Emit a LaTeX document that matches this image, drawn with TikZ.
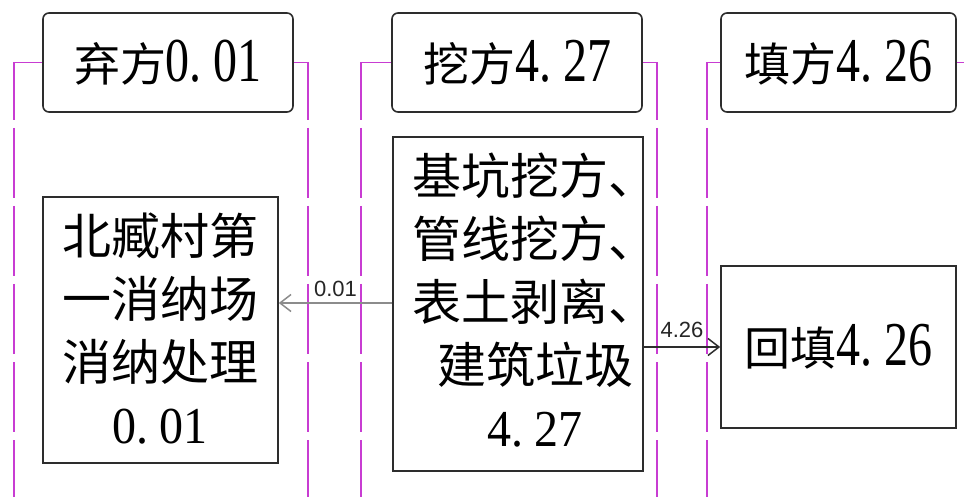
\documentclass[tikz,border=0pt]{standalone}
\usepackage{fontspec}
\usepackage{graphicx}
\newfontfamily\cjk{Noto Sans CJK SC}
\newfontfamily\lsans{Liberation Sans}
\newfontfamily\dserif{Liberation Serif}
\usetikzlibrary{arrows.meta}
\definecolor{mag}{RGB}{200,60,210}
\definecolor{boxline}{RGB}{45,45,45}
\definecolor{arrgray}{RGB}{140,140,140}
\newcommand\hdig[1]{{\dserif\fontsize{24pt}{28pt}\selectfont\scalebox{1}[1.3]{#1}}}
\newcommand\bdig[1]{{\dserif\fontsize{24pt}{28pt}\selectfont\scalebox{1}[1.08]{#1}}}
\begin{document}
\begin{tikzpicture}[x=0.5pt,y=-0.5pt,
  hdr/.style={draw=boxline, line width=0.8pt, rounded corners=3pt, minimum width=125pt,
    minimum height=49.5pt, inner sep=0pt, font=\fontsize{23pt}{28pt}\selectfont},
  cbox/.style={draw=boxline, line width=0.8pt, inner sep=0pt},
  ctext/.style={inner sep=0pt, align=center, font=\fontsize{24.5pt}{31.5pt}\selectfont},
  magsolid/.style={draw=mag, line width=0.75pt},
  magdash/.style={draw=mag, line width=0.75pt, dash pattern=on 35pt off 4pt},
  flow/.style={line width=0.75pt, -{Straight Barb[length=5.5pt,width=8.5pt]}},
  flowlabel/.style={font=\lsans\fontsize{11pt}{13pt}\selectfont, inner sep=0pt, text=black!85}
]
\useasboundingbox (0,0) rectangle (964,497);
\fill[white] (0,0) rectangle (964,497);

% header boxes
\node[hdr] (h1) at (168,62.5) {{\cjk 弃方}\hdig{0.\hspace{0.25em}01}};
\node[hdr] (h2) at (517,62.5) {{\cjk 挖方}\hdig{4.\hspace{0.25em}27}};
\node[hdr, minimum width=117.5pt] (h3) at (838.5,62.5) {{\cjk 填方}\hdig{4.\hspace{0.25em}26}};

% content boxes
\node[cbox, minimum width=117.5pt, minimum height=133pt] (b1) at (160.5,330) {};
\node[ctext] (t1) at (160,329)
  {{\cjk 北臧村第}\\{\cjk 一消纳场}\\{\cjk 消纳处理}\\\bdig{0.\hspace{0.25em}01}};
\node[cbox, minimum width=125pt, minimum height=167pt] (b2) at (518,304) {};
\node[ctext] (t2) at (535,300)
  {{\cjk 基坑挖方、}\\{\cjk 管线挖方、}\\{\cjk 表土剥离、}\\{\cjk 建筑垃圾}\\\bdig{4.\hspace{0.25em}27}};
\node[cbox, minimum width=117.5pt, minimum height=81pt, font=\fontsize{23pt}{28pt}\selectfont] (b3) at (838.5,347)
  {{\cjk 回填}\hdig{4.\hspace{0.25em}26}};

% magenta column brackets
\draw[magsolid] (h1.west) -- (14,62.5) -- (14,120);
\draw[magdash] (14,128) -- (14,497);
\draw[magsolid] (h1.east) -- (308,62.5) -- (308,120);
\draw[magdash] (308,128) -- (308,497);
\draw[magsolid] (h2.west) -- (361,62.5) -- (361,120);
\draw[magdash] (361,128) -- (361,497);
\draw[magsolid] (h2.east) -- (657,62.5) -- (657,120);
\draw[magdash] (657,128) -- (657,497);
\draw[magsolid] (h3.west) -- (707,62.5) -- (707,120);
\draw[magdash] (707,128) -- (707,497);
\draw[magsolid] (h3.east) -- (964,62.5);

% flows
\coordinate (y1) at (0,303);
\coordinate (y2) at (0,347);
\draw[flow, draw=arrgray] (b2.west |- y1) -- node[flowlabel, midway, above=3pt] (l1) {0.01} (b1.east |- y1);
\draw[flow, draw=boxline] (b2.east |- y2) -- node[flowlabel, midway, above=4.5pt] (l2) {4.26} (b3.west |- y2);
\end{tikzpicture}
\end{document}
